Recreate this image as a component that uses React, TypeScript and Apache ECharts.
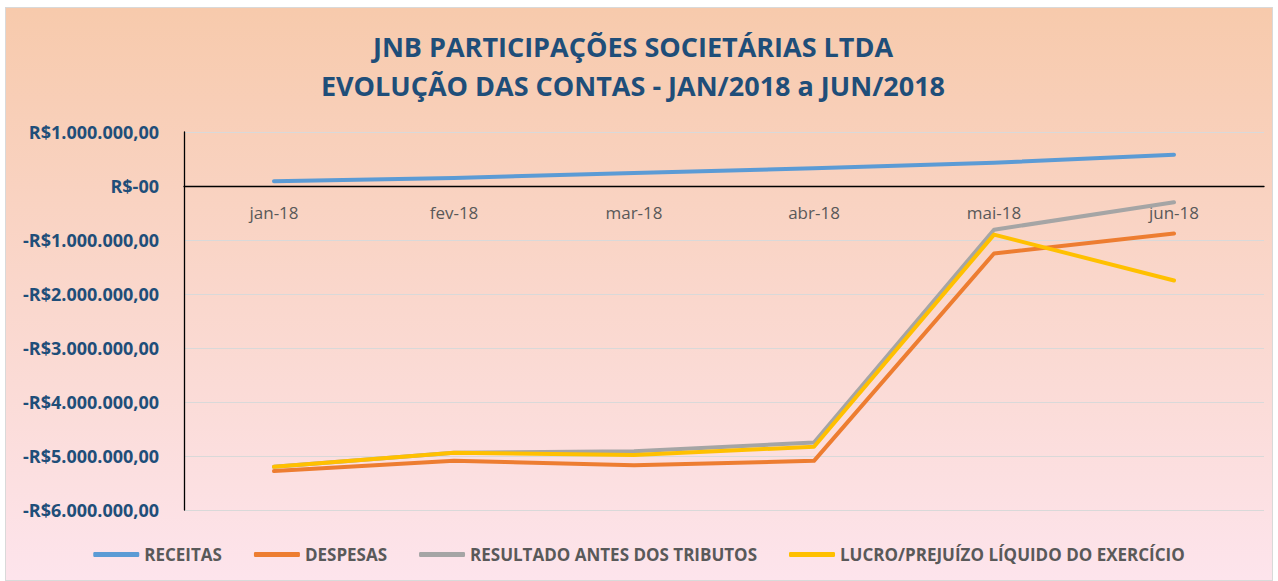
import React, { useEffect, useRef } from "react";
import * as echarts from "echarts";

const months = ["jan-18", "fev-18", "mar-18", "abr-18", "mai-18", "jun-18"];
const receitas = [90000, 150000, 240000, 330000, 430000, 580000];
const despesas = [-5280000, -5090000, -5170000, -5090000, -1250000, -880000];
const resultado = [-5200000, -4940000, -4910000, -4750000, -810000, -300000];
const lucro = [-5200000, -4940000, -4980000, -4830000, -900000, -1750000];
const seriesNames = [
  "RECEITAS",
  "DESPESAS",
  "RESULTADO ANTES DOS TRIBUTOS",
  "LUCRO/PREJUÍZO LÍQUIDO DO EXERCÍCIO",
];
const colors = ["#5B9BD5", "#ED7D31", "#A5A5A5", "#FFC000"];

function fmt(v: number): string {
  if (v === 0) return "R$-00";
  const abs = Math.abs(v);
  const s = abs.toString().replace(/\B(?=(\d{3})+(?!\d))/g, ".");
  return (v < 0 ? "-" : "") + "R$" + s + ",00";
}

export default function App() {
  const ref = useRef<HTMLDivElement>(null);
  useEffect(() => {
    if (!ref.current) return;
    const chart = echarts.init(ref.current, undefined, { renderer: "svg" });
    const data = [receitas, despesas, resultado, lucro];
    chart.setOption({
      animation: false,
      textStyle: { fontFamily: "Open Sans" },
      title: {
        text: "JNB PARTICIPAÇÕES SOCIETÁRIAS LTDA\nEVOLUÇÃO DAS CONTAS - JAN/2018 a JUN/2018",
        left: 622,
        textAlign: "center",
        top: 14,
        textStyle: {
          fontFamily: "Open Sans",
          fontSize: 27,
          fontWeight: "bold",
          color: "#1F4E79",
          lineHeight: 39,
        },
      },
      legend: {
        bottom: 12,
        left: "center",
        itemWidth: 46,
        itemHeight: 5,
        itemGap: 32,
        icon: "roundRect",
        textStyle: {
          fontFamily: "Open Sans",
          fontSize: 17,
          fontWeight: "bold",
          color: "#595959",
        },
        data: seriesNames,
      },
      grid: { left: 178, right: 8, top: 124, bottom: 70, containLabel: false },
      xAxis: {
        type: "category",
        data: months,
        boundaryGap: true,
        offset: -324,
        axisLine: { onZero: false, lineStyle: { color: "#000000", width: 1.3 } },
        axisTick: { show: false },
        axisLabel: {
          color: "#595959",
          fontSize: 17,
          margin: 18,
          fontFamily: "Open Sans",
        },
      },
      yAxis: {
        type: "value",
        min: -6000000,
        max: 1000000,
        interval: 1000000,
        axisLine: { show: true, lineStyle: { color: "#000000", width: 1.3 } },
        axisTick: { show: false },
        splitLine: { lineStyle: { color: "#D9D9D9", width: 1 } },
        axisLabel: {
          formatter: (v: number) => fmt(v),
          color: "#1F4E79",
          fontWeight: "bold",
          fontSize: 18,
          margin: 25,
          fontFamily: "Open Sans",
        },
      },
      series: seriesNames.map((name, i) => ({
        name,
        type: "line",
        data: data[i],
        symbol: "none",
        color: colors[i],
        lineStyle: { width: 4, color: colors[i], cap: "round", join: "round" },
      })),
    });
    return () => chart.dispose();
  }, []);
  return (
    <div
      style={{
        position: "fixed",
        left: 5,
        top: 7,
        width: 1266,
        height: 572,
        border: "1px solid #D9D9D9",
        background: "linear-gradient(to bottom, #F7CAAC, #FDE4EC)",
      }}
    >
      <div ref={ref} style={{ width: 1266, height: 572 }} />
    </div>
  );
}
